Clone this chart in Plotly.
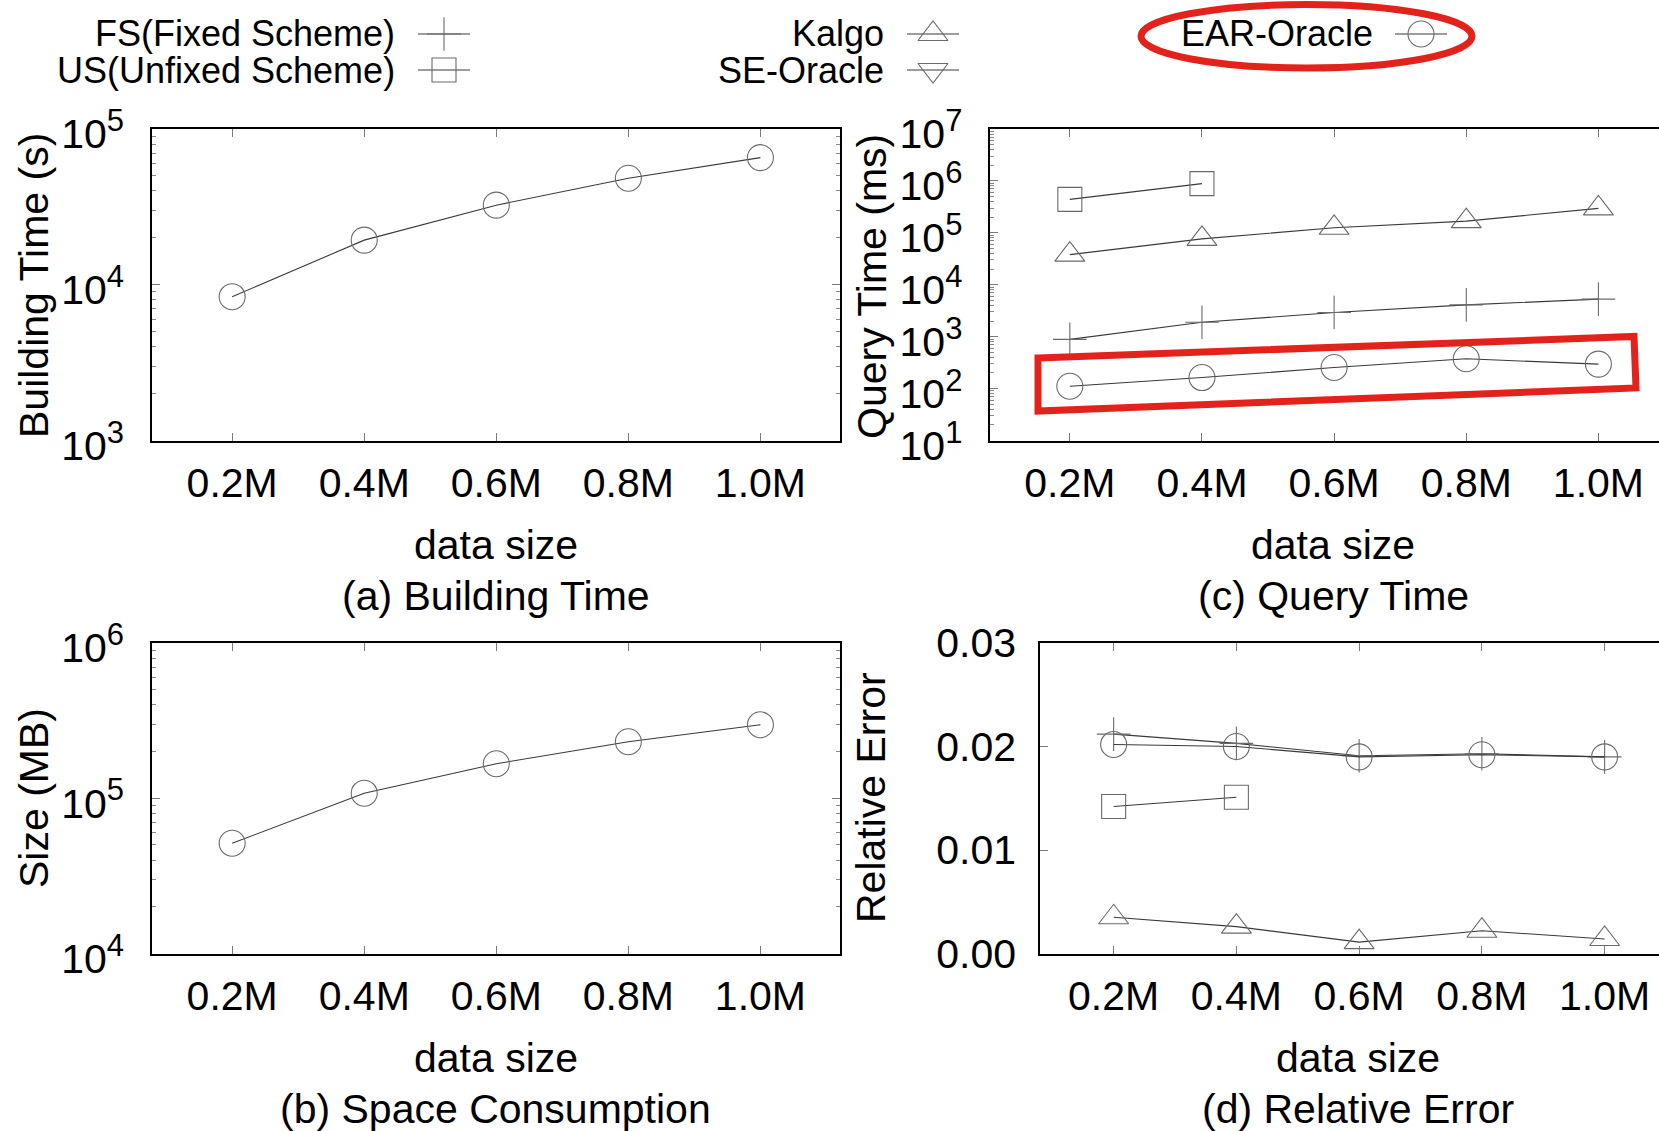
import plotly.graph_objects as go

W, H = 1659, 1131
FONT = "Liberation Sans"

# ---- data -------------------------------------------------------------
sizes = [0.2, 0.4, 0.6, 0.8, 1.0]
size_labels = ["0.2M", "0.4M", "0.6M", "0.8M", "1.0M"]

# (a) building time in seconds
build_ear = [8380, 19340, 32430, 48300, 65500]
# (b) space consumption in MB
space_ear = [51300, 107800, 166800, 231200, 297300]
# (c) query time in ms
query_fs = [888, 1890, 2920, 4100, 5280]
query_us = [442000, 888000]
query_kalgo = [38000, 76500, 125000, 168000, 296000]
query_ear = [111, 163, 255, 375, 296]
# (d) relative error
err_fs = [0.0212, 0.0203, 0.0191, 0.0193, 0.0190]
err_us = [0.0142, 0.0151]
err_kalgo = [0.0035, 0.0026, 0.0011, 0.0022, 0.0014]
err_ear = [0.0202, 0.0200, 0.0190, 0.0192, 0.0190]

series_names = ["FS(Fixed Scheme)", "US(Unfixed Scheme)", "Kalgo", "SE-Oracle", "EAR-Oracle"]
symbols = {"FS(Fixed Scheme)": ("cross-thin-open", 24),
           "US(Unfixed Scheme)": ("square-open", 24),
           "Kalgo": ("triangle-up-open", 26),
           "SE-Oracle": ("triangle-down-open", 26),
           "EAR-Oracle": ("circle-open", 26)}

LINE_C = "#3a3a3a"
MARK_C = "#6a6a6a"
RED = "#e3231b"


def px(x):
    return x / W


def py(y):
    return 1 - y / H


fig = go.Figure()


def add_series(xs, ys, name, ax):
    sym, sz = symbols[name]
    fig.add_trace(go.Scatter(
        x=xs, y=ys, mode="lines+markers", name=name, showlegend=False,
        xaxis="x" + ax, yaxis="y" + ax,
        line=dict(color=LINE_C, width=1.1),
        marker=dict(symbol=sym, size=sz, color=MARK_C, line=dict(color=MARK_C, width=1.1)),
    ))


# (a)
add_series(sizes, build_ear, "EAR-Oracle", "")
# (b)
add_series(sizes, space_ear, "EAR-Oracle", "2")
# (c)
add_series(sizes, query_fs, "FS(Fixed Scheme)", "3")
add_series(sizes[:len(query_us)], query_us, "US(Unfixed Scheme)", "3")
add_series(sizes, query_kalgo, "Kalgo", "3")
add_series(sizes, query_ear, "EAR-Oracle", "3")
# (d)
add_series(sizes, err_fs, "FS(Fixed Scheme)", "4")
add_series(sizes[:len(err_us)], err_us, "US(Unfixed Scheme)", "4")
add_series(sizes, err_kalgo, "Kalgo", "4")
add_series(sizes, err_ear, "EAR-Oracle", "4")

# ---- key samples (drawn on a full-page overlay axis in pixel units) ----
key_rows = {"FS(Fixed Scheme)": (397, 418, 470, 34),
            "US(Unfixed Scheme)": (397, 418, 470, 70),
            "Kalgo": (886, 907, 959, 34),
            "SE-Oracle": (886, 907, 959, 70),
            "EAR-Oracle": (1375, 1395, 1447, 34)}
annotations = []
for name in series_names:
    tx, x0, x1, yy = key_rows[name]
    sym, sz = symbols[name]
    fig.add_trace(go.Scatter(
        x=[x0, x1], y=[yy, yy], mode="lines", showlegend=False,
        xaxis="x5", yaxis="y5", line=dict(color=LINE_C, width=1.1)))
    fig.add_trace(go.Scatter(
        x=[(x0 + x1) / 2], y=[yy], mode="markers", showlegend=False,
        xaxis="x5", yaxis="y5",
        marker=dict(symbol=sym, size=sz, color=MARK_C, line=dict(color=MARK_C, width=1.1))))
    annotations.append(dict(text=name, x=px(tx), y=py(yy), xref="paper", yref="paper",
                            xanchor="right", yanchor="middle", showarrow=False,
                            font=dict(family=FONT, size=36, color="black")))

# ---- axes -------------------------------------------------------------
tick_font = dict(family=FONT, size=41, color="black")
log_font = dict(family=FONT, size=41, color="black")


def xcfg(dom, rng, anchor):
    return dict(domain=dom, range=rng, anchor=anchor, tickvals=sizes, ticktext=size_labels,
                ticks="inside", ticklen=8, tickwidth=1, tickcolor="#7a7a7a",
                mirror="allticks", showline=True, linecolor="black", linewidth=1.6,
                showgrid=False, zeroline=False, tickfont=tick_font, ticklabelstandoff=5)


def ycfg(dom, anchor, mirror, **kw):
    d = dict(domain=dom, anchor=anchor, ticks="inside", ticklen=8, tickwidth=1,
             tickcolor="#7a7a7a", mirror=mirror, showline=True, linecolor="black",
             linewidth=1.6, showgrid=False, zeroline=False, tickfont=tick_font,
             ticklabelstandoff=14)
    d.update(kw)
    return d


def log_cfg(dom, anchor, mirror, lo, hi):
    exps = list(range(lo, hi + 1))
    minor_vals = [m * 10 ** k for k in range(lo, hi) for m in range(2, 10)]
    return ycfg(dom, anchor, mirror, type="log", range=[lo, hi],
                tickvals=[10 ** k for k in exps],
                ticktext=[f"10<sup><span style='font-size:31px'>{k}</span></sup>" for k in exps],
                tickfont=log_font, ticklabelshift=5, ticklabelstandoff=18,
                minor=dict(tickmode="array", tickvals=minor_vals, ticks="inside",
                           ticklen=4, tickwidth=1, tickcolor="#8a8a8a", showgrid=False))


top_dom = [py(440.5), py(129)]
bot_dom = [py(953.5), py(643)]

fig.update_layout(
    width=W, height=H, margin=dict(l=0, r=0, t=0, b=0, autoexpand=False),
    paper_bgcolor="white", plot_bgcolor="rgba(0,0,0,0)", showlegend=False,
    xaxis=xcfg([px(152), px(840)], [0.0786, 1.1205], "y"),
    yaxis=log_cfg(top_dom, "x", "allticks", 3, 5),
    xaxis2=xcfg([px(152), px(840)], [0.0786, 1.1205], "y2"),
    yaxis2=log_cfg(bot_dom, "x2", "allticks", 4, 6),
    xaxis3=xcfg([px(990.4), 1.0], [0.0798, 1.0917], "y3"),
    yaxis3=log_cfg(top_dom, "x3", False, 1, 7),
    xaxis4=xcfg([px(1040), 1.0], [0.080, 1.0886], "y4"),
    yaxis4=ycfg(bot_dom, "x4", False, range=[0, 0.03], tickvals=[0, 0.01, 0.02, 0.03],
                tickformat=".2f"),
    xaxis5=dict(domain=[0, 1], range=[0, W], visible=False, fixedrange=True, anchor="y5"),
    yaxis5=dict(domain=[0, 1], range=[H, 0], visible=False, fixedrange=True, anchor="x5"),
)

# ---- axis titles and captions ----------------------------------------
lab_font = dict(family=FONT, size=41, color="black")
for text, x, y in [("data size", 496, 545), ("(a) Building Time", 496, 596),
                   ("data size", 496, 1058), ("(b) Space Consumption", 496, 1109),
                   ("data size", 1333, 545), ("(c) Query Time", 1333, 596),
                   ("data size", 1358, 1058), ("(d) Relative Error", 1358, 1109)]:
    annotations.append(dict(text=text, x=px(x), y=py(y), xref="paper", yref="paper",
                            xanchor="center", yanchor="middle", showarrow=False, font=lab_font))
for text, x, y in [("Building Time (s)", 34, 286), ("Size (MB)", 34, 798),
                   ("Query Time (ms)", 872, 286), ("Relative Error", 871, 798)]:
    annotations.append(dict(text=text, x=px(x), y=py(y), xref="paper", yref="paper",
                            xanchor="center", yanchor="middle", textangle=-90,
                            showarrow=False, font=lab_font))

fig.update_layout(annotations=annotations)

# ---- red highlight marks ---------------------------------------------
quad = [(1038, 358), (1634, 336.5), (1636, 388), (1038, 411)]
path = "M " + " L ".join(f"{px(x):.5f},{py(y):.5f}" for x, y in quad) + " Z"
fig.update_layout(shapes=[
    dict(type="circle", xref="paper", yref="paper",
         x0=px(1141), x1=px(1472), y0=py(68), y1=py(4.5),
         line=dict(color=RED, width=7)),
    dict(type="path", xref="paper", yref="paper", path=path,
         line=dict(color=RED, width=7)),
])

fig.write_html("out.html")
